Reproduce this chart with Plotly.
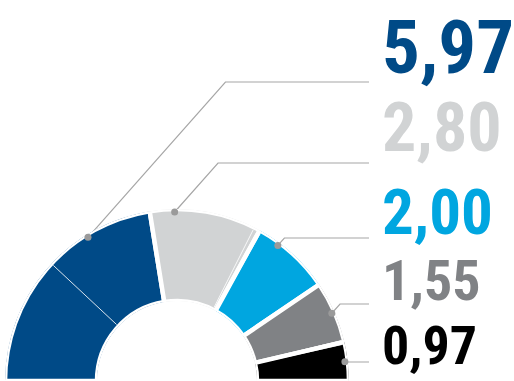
import math
import plotly.graph_objects as go

# Segment values (left to right along the half ring)
labels = ["5,97", "2,80", "2,00", "1,55", "0,97"]
values = [5.97, 2.80, 2.00, 1.55, 0.97]
colors = ["#004a87", "#d1d3d4", "#00a6e0", "#808285", "#000000"]

# Sub-parts inside each segment (thin separators between them)
parts = [
    [3.18, 2.79],
    [2.65, 0.15],
    [0.05, 1.95],
    [1.50, 0.05],
    [0.05, 0.92],
]

W, H = 514, 381
total = sum(values)
SPAN = 180.0

# ring geometry (pixels)
CX, CY = 177.0, 381.0
R_OUT = 172.0
HOLE = 0.465


def to_theta(v):
    return v / total * SPAN


starts, acc = [], 0.0
for v in values:
    starts.append(acc)
    acc += v
thetas = [to_theta(s + v / 2) for s, v in zip(starts, values)]
widths = [to_theta(v) for v in values]

fig = go.Figure()

fig.add_trace(go.Barpolar(
    theta=thetas, r=[1] * len(values), width=widths,
    marker=dict(color=colors, line=dict(color="white", width=4.5)),
    hoverinfo="skip", showlegend=False,
))

# thin separators between sub-parts
for s, p in zip(starts, parts):
    pos = s
    for sub in p[:-1]:
        pos += sub
        t = to_theta(pos)
        fig.add_trace(go.Scatterpolar(
            theta=[t, t], r=[0.03, 0.97], mode="lines",
            line=dict(color="rgba(255,255,255,0.85)", width=1),
            hoverinfo="skip", showlegend=False,
        ))

# callout anchors: fraction along each segment
anchor_frac = [0.72, 0.22, 0.29, 0.5, 0.5]
anchor_theta = [to_theta(s + f * v) for s, f, v in zip(starts, anchor_frac, values)]
R_DOT = 169.0
r_dot = (R_DOT / R_OUT - HOLE) / (1 - HOLE)

fig.add_trace(go.Scatterpolar(
    theta=anchor_theta, r=[r_dot] * len(values), mode="markers",
    marker=dict(color="#9a9a9a", size=7),
    hoverinfo="skip", showlegend=False,
))

# leader lines: diagonal from anchor to the label row, then horizontal
row_y = [82, 163, 238, 304, 362]
line_end_x = 369
slope = 1.13
shapes = []
for t, ry in zip(anchor_theta, row_y):
    a = math.radians(180 - t)
    px = CX + R_DOT * math.cos(a)
    py = CY - R_DOT * math.sin(a)
    ex = px + max(py - ry, 0) / slope
    pts = [(px, py), (ex, ry), (line_end_x, ry)]
    path = "M " + " L ".join(f"{x / W:.5f},{1 - y / H:.5f}" for x, y in pts)
    shapes.append(dict(type="path", xref="paper", yref="paper", path=path,
                       line=dict(color="#a6a6a6", width=1.2), layer="below"))

# value labels
font_family = "Roboto Condensed, Roboto, Liberation Sans, sans-serif"
label_size = [75, 68, 63, 56, 54]
label_cy = [47, 127.5, 212.5, 280.5, 345]
annotations = []
for txt, c, sz, cy in zip(labels, colors, label_size, label_cy):
    annotations.append(dict(
        text=f"<b>{txt}</b>", x=380 / W, y=1 - cy / H, xref="paper", yref="paper",
        xanchor="left", yanchor="middle", showarrow=False,
        font=dict(family=font_family, size=sz, color=c),
    ))

fig.update_layout(
    width=W, height=H,
    margin=dict(l=0, r=0, t=0, b=0),
    paper_bgcolor="white", plot_bgcolor="white",
    polar=dict(
        domain=dict(x=[(CX - R_OUT) / W, (CX + R_OUT) / W], y=[0, R_OUT / H]),
        sector=[0, 180], hole=HOLE, bgcolor="rgba(0,0,0,0)",
        radialaxis=dict(visible=False, range=[0, 1]),
        angularaxis=dict(visible=False, rotation=180, direction="clockwise",
                         thetaunit="degrees"),
        barmode="overlay",
    ),
    shapes=shapes,
    annotations=annotations,
    showlegend=False,
)

fig.write_html("out.html")
